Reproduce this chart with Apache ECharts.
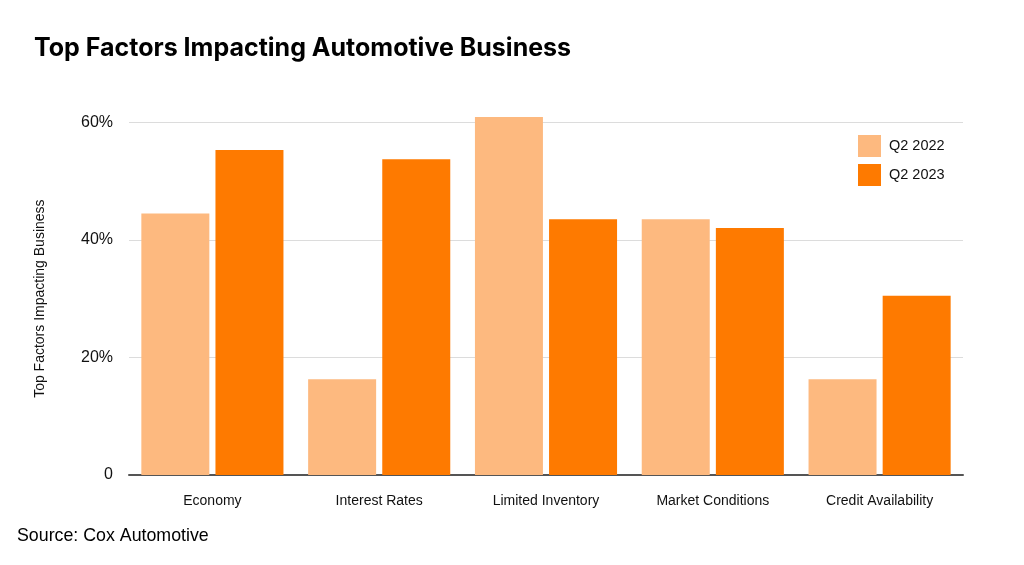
<!DOCTYPE html>
<html><head><meta charset="utf-8">
<script src="https://cdn.jsdelivr.net/npm/echarts@6/dist/echarts.min.js"></script>
<style>html,body{margin:0;padding:0;background:#fff}#c{width:1024px;height:565px}</style>
</head><body><div id="c"></div>
<script>
const categories = ['Economy', 'Interest Rates', 'Limited Inventory', 'Market Conditions', 'Credit Availability'];
const q2_2022 = [44.5, 16.3, 60.9, 43.5, 16.3];
const q2_2023 = [55.3, 53.7, 43.5, 42.0, 30.5];
const seriesNames = ['Q2 2022', 'Q2 2023'];
const yTicks = [0, 20, 40, 60];

const FONT = '"Liberation Sans", Arial, sans-serif';
const chart = echarts.init(document.getElementById('c'), null, {renderer: 'canvas'});
chart.setOption({
  backgroundColor: '#fff',
  animation: false,
  title: {
    text: 'Top Factors Impacting Automotive Business',
    left: 29, top: 31,
    textStyle: {fontFamily: 'Inter, ' + FONT, fontWeight: 'bold', fontSize: 25, color: '#000'}
  },
  graphic: [{
    type: 'text', left: 17, top: 527,
    style: {text: 'Source: Cox Automotive', font: '17.8px ' + FONT, fill: '#000'}
  }],
  legend: {
    data: seriesNames,
    orient: 'vertical',
    left: 858, top: 135, padding: 0,
    itemWidth: 23, itemHeight: 22, itemGap: 7,
    icon: 'rect',
    textStyle: {fontFamily: FONT, fontSize: 14.5, color: '#111', padding: [0, 0, 0, 3]}
  },
  grid: {left: 129, right: 61, top: 122.3, bottom: 90},
  xAxis: {
    type: 'category',
    data: categories,
    axisTick: {show: false},
    axisLine: {lineStyle: {color: '#555', width: 2}},
    axisLabel: {margin: 19, fontFamily: FONT, fontSize: 14, color: '#111'}
  },
  yAxis: {
    type: 'value',
    min: yTicks[0], max: yTicks[yTicks.length - 1], interval: 20,
    name: 'Top Factors Impacting Business',
    nameLocation: 'middle', nameRotate: 90, nameGap: 82,
    nameTextStyle: {fontFamily: FONT, fontSize: 14, color: '#111'},
    axisLine: {show: false},
    axisTick: {show: false},
    axisLabel: {margin: 16, fontFamily: FONT, fontSize: 16, color: '#111',
      formatter: v => v === 0 ? '0' : v + '%'},
    splitLine: {lineStyle: {color: '#dcdcdc', width: 1}}
  },
  series: [
    {name: seriesNames[0], type: 'bar', data: q2_2022, barWidth: 68, barGap: '9%', clip: false,
      itemStyle: {color: '#fdb97f'}},
    {name: seriesNames[1], type: 'bar', data: q2_2023, barWidth: 68, barGap: '9%', clip: false,
      itemStyle: {color: '#fe7a00'}}
  ]
});
</script></body></html>
